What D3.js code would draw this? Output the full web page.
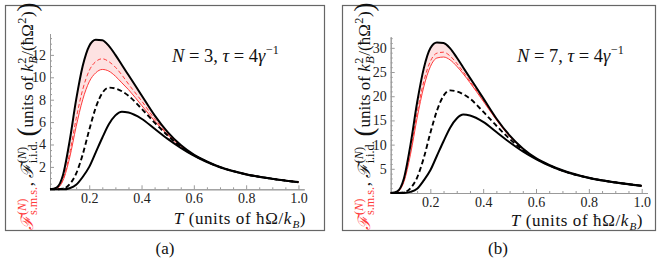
<!DOCTYPE html>
<html>
<head>
<meta charset="utf-8">
<script src="https://cdn.jsdelivr.net/npm/d3@7"></script>
<style>
body { margin: 0; background: #fff; }
svg text { font-family: "Liberation Serif", "DejaVu Serif", serif; white-space: pre; }
</style>
</head>
<body>
<div id="chart"></div>
<script>
// temperatures (units of hbar*Omega/k_B) at which the curves were read
var temps = [0.05, 0.075, 0.1, 0.125, 0.15, 0.175, 0.2, 0.225, 0.25, 0.275, 0.3, 0.325, 0.35,
             0.4, 0.45, 0.5, 0.55, 0.6, 0.65, 0.7, 0.8, 0.9, 1.0];

// panel (a), N = 3
var topSolidA  = [0, 0.15, 1.3, 4.3, 8.0, 11.0, 12.8, 13.35, 13.3, 12.8, 12.0, 11.1, 10.2, 8.4, 6.6, 5.1, 3.95, 3.1, 2.5, 2.0, 1.35, 0.95, 0.65];
var redDashA   = [0, 0.1, 0.9, 3.2, 6.3, 8.9, 10.6, 11.4, 11.65, 11.4, 10.9, 10.2, 9.4, 7.9, 6.3, 4.95, 3.9, 3.08, 2.48, 1.99, 1.35, 0.95, 0.65];
var redSolidA  = [0, 0.08, 0.8, 2.8, 5.6, 8.0, 9.6, 10.4, 10.7, 10.55, 10.1, 9.5, 8.9, 7.5, 6.1, 4.85, 3.85, 3.06, 2.47, 1.98, 1.34, 0.94, 0.65];
var blackDashA = [0, 0, 0.05, 0.45, 1.4, 3.1, 5.3, 7.3, 8.6, 9.08, 9.0, 8.75, 8.35, 7.2, 5.95, 4.8, 3.8, 3.04, 2.46, 1.98, 1.34, 0.94, 0.64];
var lowSolidA  = [0, 0, 0, 0.1, 0.4, 1.1, 2.0, 3.3, 4.6, 5.8, 6.6, 6.93, 6.85, 6.3, 5.4, 4.5, 3.7, 3.0, 2.42, 1.96, 1.33, 0.93, 0.63];

// panel (b), N = 7
var topSolidB  = [0, 0.35, 3.0, 10.0, 18.7, 25.7, 29.9, 31.1, 31.0, 29.9, 28.0, 25.9, 23.8, 19.6, 15.4, 11.9, 9.2, 7.2, 5.8, 4.7, 3.15, 2.2, 1.5];
var redDashB   = [0, 0.3, 2.6, 8.8, 16.6, 23.0, 27.2, 28.9, 29.1, 28.3, 26.8, 25.0, 23.1, 19.2, 15.2, 11.8, 9.15, 7.18, 5.78, 4.68, 3.14, 2.2, 1.5];
var redSolidB  = [0, 0.25, 2.3, 8.0, 15.5, 21.9, 26.1, 27.9, 28.1, 27.5, 26.2, 24.6, 22.8, 19.0, 15.1, 11.7, 9.1, 7.15, 5.76, 4.67, 3.14, 2.19, 1.5];
var blackDashB = [0, 0, 0.12, 1.0, 3.2, 7.2, 12.4, 17.0, 20.1, 21.2, 21.0, 20.4, 19.5, 16.8, 13.9, 11.2, 8.9, 7.1, 5.74, 4.62, 3.13, 2.19, 1.49];
var lowSolidB  = [0, 0, 0, 0.23, 0.9, 2.6, 4.7, 7.7, 10.7, 13.5, 15.4, 16.2, 16.0, 14.7, 12.6, 10.5, 8.6, 7.0, 5.65, 4.57, 3.1, 2.17, 1.47];

var xTicks = [0.2, 0.4, 0.6, 0.8, 1.0];
var yTicksA = [2, 4, 6, 8, 10, 12];
var yTicksB = [5, 10, 15, 20, 25, 30];
var captions = ["(a)", "(b)"];
var nLabels = ["3", "7"];

var RED = "#ff3a3a";

var svg = d3.select("#chart").append("svg")
    .attr("width", 664)
    .attr("height", 272);

// lay out a row of pieces (with stacked super/subscripts), returns group + width
function mathRow(parent, parts, size, ratio, spacing) {
    var g = parent.append("g");
    var x = 0;
    ratio = ratio || 0.66;
    parts.forEach(function(p) {
        var fs = p.size || size;
        var col = p.color || "#111";
        var t = g.append("text")
            .attr("x", x)
            .attr("y", p.dy || 0)
            .style("font-size", fs + "px")
            .style("font-style", p.it ? "italic" : "normal")
            .style("letter-spacing", (spacing || 0) + "px")
            .attr("fill", col)
            .text(p.t);
        var w = t.node().getComputedTextLength();
        var w2 = 0;
        var ss = fs * ratio;
        if (p.sup) {
            var s = g.append("text")
                .attr("x", x + w + 0.5)
                .attr("y", -fs * 0.42)
                .style("font-size", ss + "px")
                .attr("fill", col);
            p.sup.forEach(function(q) {
                s.append("tspan").style("font-style", q[1] ? "italic" : "normal").text(q[0]);
            });
            w2 = Math.max(w2, s.node().getComputedTextLength() + 1);
        }
        if (p.sub) {
            var b = g.append("text")
                .attr("x", x + w + 0.5)
                .attr("y", fs * 0.25)
                .style("font-size", ss + "px")
                .style("font-style", p.subIt ? "italic" : "normal")
                .attr("fill", col)
                .text(p.sub);
            w2 = Math.max(w2, b.node().getComputedTextLength() + 1);
        }
        x += w + w2;
    });
    return {g: g, width: x};
}

var panels = [
    {frame: [5, 5, 319, 225], x0: 50, x1: 304.2, yBase: 189.3, yTop: 33.6, yMax: 13.9,
     yTicks: yTicksA, yMinor: 0.5, series: [topSolidA, redDashA, redSolidA, blackDashA, lowSolidA],
     labelX: 33, noteX: 172, titleR: 306, titleY: 224, capX: 165},
    {frame: [342, 5, 313, 225], x0: 390.7, x1: 647.5, yBase: 193, yTop: 36.7, yMax: 32.3,
     yTicks: yTicksB, yMinor: 1, series: [topSolidB, redDashB, redSolidB, blackDashB, lowSolidB],
     labelX: 370, noteX: 517, titleR: 643, titleY: 226, capX: 498}
];

panels.forEach(function(p, i) {
    var g = svg.append("g");

    g.append("rect")
        .attr("x", p.frame[0] + 0.5).attr("y", p.frame[1] + 0.5)
        .attr("width", p.frame[2]).attr("height", p.frame[3])
        .attr("fill", "none").attr("stroke", "#666").attr("stroke-width", 1.2);

    var x = d3.scaleLinear().domain([0.05, 1.022]).range([p.x0, p.x1]);
    var y = d3.scaleLinear().domain([0, p.yMax]).range([p.yBase, p.yTop]);

    // minor ticks first
    var xMinor = d3.range(0.05, 1.001, 0.05).filter(function(v) {
        return Math.abs(v * 5 - Math.round(v * 5)) > 1e-6;
    });
    g.append("g").attr("class", "ax")
        .attr("transform", "translate(0," + p.yBase + ")")
        .call(d3.axisBottom(x).tickValues(xMinor).tickSize(-2).tickSizeOuter(0).tickFormat(""));
    g.append("g").attr("class", "ax")
        .attr("transform", "translate(0," + p.yBase + ")")
        .call(d3.axisBottom(x).tickValues(xTicks).tickSize(-4).tickSizeOuter(0)
            .tickPadding(4).tickFormat(d3.format(".1f")));

    var yMinor = d3.range(p.yMinor, p.yMax, p.yMinor).filter(function(v) {
        return p.yTicks.indexOf(v) < 0;
    });
    g.append("g").attr("class", "ax")
        .attr("transform", "translate(" + p.x0 + ",0)")
        .call(d3.axisLeft(y).tickValues(yMinor).tickSize(-2).tickSizeOuter(0).tickFormat(""));
    g.append("g").attr("class", "ax")
        .attr("transform", "translate(" + p.x0 + ",0)")
        .call(d3.axisLeft(y).tickValues(p.yTicks).tickSize(-4).tickSizeOuter(0).tickPadding(4));

    g.selectAll(".ax path, .ax line").attr("stroke", "#9a9a9a");
    g.selectAll(".ax text")
        .style("font-size", "14px")
        .attr("fill", "#222")
        .style("font-family", "'Liberation Serif', serif");

    var pts = function(arr) {
        return temps.map(function(t, k) { return [t, arr[k]]; });
    };
    var line = d3.line()
        .x(function(d) { return x(d[0]); })
        .y(function(d) { return y(d[1]); })
        .curve(d3.curveMonotoneX);
    var area = d3.area()
        .x(function(d) { return x(d[0]); })
        .y0(function(d) { return y(d[2]); })
        .y1(function(d) { return y(d[1]); })
        .curve(d3.curveMonotoneX);

    var top = p.series[0], rd = p.series[1], rs = p.series[2], bd = p.series[3], lo = p.series[4];

    g.append("path")
        .datum(temps.map(function(t, k) { return [t, top[k], rs[k]]; }))
        .attr("d", area)
        .attr("fill", "#fde2e2");

    g.append("path").datum(pts(rs)).attr("d", line)
        .attr("fill", "none").attr("stroke", RED).attr("stroke-width", 1);
    g.append("path").datum(pts(rd)).attr("d", line)
        .attr("fill", "none").attr("stroke", RED).attr("stroke-width", 1)
        .attr("stroke-dasharray", "4,2.5");
    g.append("path").datum(pts(bd)).attr("d", line)
        .attr("fill", "none").attr("stroke", "#000").attr("stroke-width", 1.9)
        .attr("stroke-dasharray", "5,3");
    g.append("path").datum(pts(lo)).attr("d", line)
        .attr("fill", "none").attr("stroke", "#000").attr("stroke-width", 2);
    g.append("path").datum(pts(top)).attr("d", line)
        .attr("fill", "none").attr("stroke", "#000").attr("stroke-width", 2);

    // annotation N = .., tau = 4 gamma^-1
    var note = mathRow(g, [
        {t: "N", it: true},
        {t: " = " + nLabels[i] + ", "},
        {t: "τ", it: true},
        {t: " = 4"},
        {t: "γ", it: true, sup: [["−1", false]]}
    ], 18.5);
    note.g.attr("transform", "translate(" + p.noteX + ",62)");

    // x title
    var xt = mathRow(g, [
        {t: "T", it: true},
        {t: " (units of ħΩ/"},
        {t: "k", it: true, sub: "B", subIt: true},
        {t: ")"}
    ], 17, 0.66, 0.6);
    xt.g.attr("transform", "translate(" + (p.titleR - xt.width) + "," + p.titleY + ")");

    // y title, rotated
    var yg = g.append("g")
        .attr("transform", "translate(" + p.labelX + ",116) rotate(-90)");
    var yt = mathRow(yg, [
        {t: "ℱ", it: true, color: RED, sup: [["(", false], ["N", true], [")", false]], sub: "s.m.s."},
        {t: ", "},
        {t: "ℱ", it: true, sup: [["(", false], ["N", true], [")", false]], sub: "i.i.d."},
        {t: " "},
        {t: "(", size: 27, dy: 3},
        {t: "units of "},
        {t: "k", it: true, sup: [["2", false]], sub: "B", subIt: true},
        {t: "/(ħΩ", sup: [["2", false]]},
        {t: ")"},
        {t: ")", size: 27, dy: 3}
    ], 17, 0.72);
    yt.g.attr("transform", "translate(" + (-yt.width / 2) + ",0)");

    svg.append("text")
        .attr("x", p.capX).attr("y", 254)
        .attr("text-anchor", "middle")
        .style("font-size", "17px")
        .attr("fill", "#111")
        .text(captions[i]);
});
</script>
</body>
</html>
